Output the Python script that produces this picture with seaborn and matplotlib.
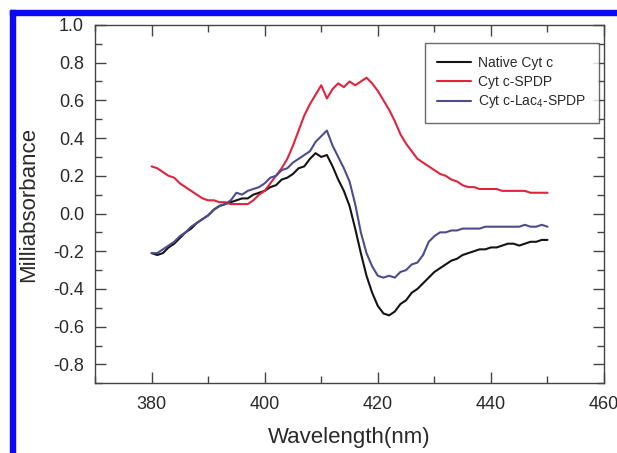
import numpy as np
import pandas as pd
import matplotlib
matplotlib.use("Agg")
import matplotlib.pyplot as plt
from matplotlib.patches import Rectangle
from matplotlib.ticker import MultipleLocator
import seaborn as sns

# --- data ---
wavelength = list(range(380, 451))

native = [
    -0.21, -0.22, -0.21, -0.18, -0.16, -0.13, -0.10, -0.08, -0.05, -0.03,
    -0.01, 0.02, 0.04, 0.05, 0.06, 0.07, 0.08, 0.08, 0.10, 0.11,
    0.12, 0.14, 0.15, 0.18, 0.19, 0.21, 0.24, 0.25, 0.29, 0.32,
    0.30, 0.31, 0.25, 0.18, 0.12, 0.04, -0.08, -0.21, -0.33, -0.42,
    -0.49, -0.53, -0.54, -0.52, -0.48, -0.46, -0.42, -0.40, -0.37, -0.34,
    -0.31, -0.29, -0.27, -0.25, -0.24, -0.22, -0.21, -0.20, -0.19, -0.19,
    -0.18, -0.18, -0.17, -0.16, -0.16, -0.17, -0.16, -0.15, -0.15, -0.14,
    -0.14,
]

spdp = [
    0.25, 0.24, 0.22, 0.20, 0.19, 0.16, 0.14, 0.12, 0.10, 0.08,
    0.07, 0.07, 0.06, 0.06, 0.05, 0.05, 0.05, 0.05, 0.07, 0.10,
    0.12, 0.16, 0.20, 0.24, 0.29, 0.36, 0.44, 0.52, 0.58, 0.63,
    0.68, 0.61, 0.66, 0.69, 0.67, 0.70, 0.68, 0.70, 0.72, 0.69,
    0.65, 0.60, 0.55, 0.49, 0.42, 0.37, 0.33, 0.29, 0.27, 0.25,
    0.23, 0.21, 0.20, 0.18, 0.17, 0.15, 0.14, 0.14, 0.13, 0.13,
    0.13, 0.13, 0.12, 0.12, 0.12, 0.12, 0.12, 0.11, 0.11, 0.11,
    0.11,
]

lac4_spdp = [
    -0.21, -0.21, -0.19, -0.17, -0.15, -0.12, -0.10, -0.07, -0.05, -0.03,
    -0.01, 0.02, 0.04, 0.05, 0.07, 0.11, 0.10, 0.12, 0.13, 0.14,
    0.16, 0.19, 0.20, 0.23, 0.24, 0.27, 0.29, 0.31, 0.33, 0.38,
    0.41, 0.44, 0.36, 0.30, 0.24, 0.17, 0.05, -0.10, -0.21, -0.28,
    -0.33, -0.34, -0.33, -0.34, -0.31, -0.30, -0.27, -0.26, -0.22, -0.15,
    -0.12, -0.10, -0.10, -0.09, -0.09, -0.08, -0.08, -0.08, -0.08, -0.07,
    -0.07, -0.07, -0.07, -0.07, -0.07, -0.07, -0.06, -0.07, -0.07, -0.06,
    -0.07,
]

labels = ["Native Cyt c", "Cyt c-SPDP", "Cyt c-Lac$_4$-SPDP"]
colors = ["#141414", "#e3223c", "#4d4c8e"]

df = pd.DataFrame({
    "Wavelength": wavelength * 3,
    "Milliabsorbance": native + spdp + lac4_spdp,
    "Sample": [labels[0]] * len(native) + [labels[1]] * len(spdp) + [labels[2]] * len(lac4_spdp),
})

# --- style ---
sns.set_theme(style="ticks")
plt.rcParams["font.family"] = ["Liberation Sans", "DejaVu Sans"]
plt.rcParams["mathtext.default"] = "regular"

fig = plt.figure(figsize=(6.17, 4.53), dpi=100)
ax = fig.add_axes([0.154, 0.154, 0.825, 0.791])

sns.lineplot(data=df, x="Wavelength", y="Milliabsorbance", hue="Sample",
             hue_order=labels, palette=colors, linewidth=1.5, ax=ax)

ax.set_xlim(370, 460)
ax.set_ylim(-0.9, 1.0)
ax.xaxis.set_major_locator(MultipleLocator(20))
ax.xaxis.set_minor_locator(MultipleLocator(10))
ax.yaxis.set_major_locator(MultipleLocator(0.2))
ax.yaxis.set_minor_locator(MultipleLocator(0.1))
ax.yaxis.set_major_formatter(matplotlib.ticker.FormatStrFormatter("%.1f"))

for s in ax.spines.values():
    s.set_color("#444444")
    s.set_linewidth(1.0)
ax.tick_params(which="both", direction="in", top=True, right=True,
               color="#444444", width=1.0, labelsize=13, labelcolor="#2a2a2a")
ax.tick_params(which="major", length=8)
ax.tick_params(which="minor", length=5)
ax.tick_params(axis="y", pad=8)
ax.tick_params(axis="x", pad=9)

ax.set_xlabel("Wavelength(nm)", fontsize=16, color="#2a2a2a", labelpad=10)
ax.set_ylabel("Milliabsorbance", fontsize=16, color="#2a2a2a", labelpad=10)

leg = ax.legend(loc="upper right", bbox_to_anchor=(0.99, 0.949), fontsize=10,
                frameon=True, fancybox=False, edgecolor="#444444",
                handlelength=2.45, handletextpad=0.5, labelspacing=0.35,
                borderpad=0.9, borderaxespad=0)
leg.get_frame().set_linewidth(1.0)
for t in leg.get_texts():
    t.set_color("#2a2a2a")
for line in leg.get_lines():
    line.set_linewidth(1.5)

# blue frame along the left and top edges
fig.patches.append(Rectangle((10 / 617, 0), 5 / 617, 1 - 10 / 453,
                             transform=fig.transFigure, color="#0a0af5", zorder=10))
fig.patches.append(Rectangle((10 / 617, 1 - 15 / 453), 1, 5 / 453,
                             transform=fig.transFigure, color="#0a0af5", zorder=10))

fig.savefig("out.png", dpi=100)
